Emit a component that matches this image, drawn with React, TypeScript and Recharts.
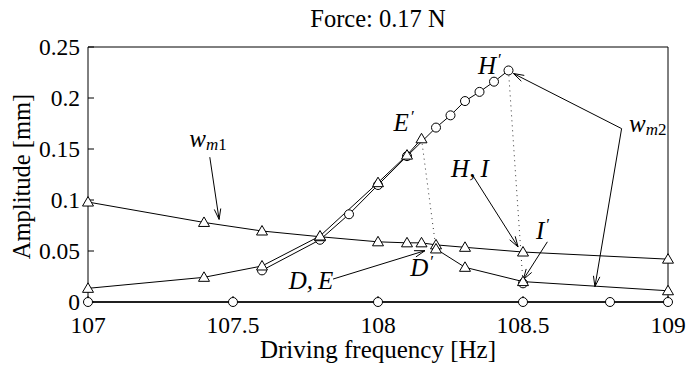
import * as React from "react";
import {
  LineChart,
  Line,
  XAxis,
  YAxis,
  ReferenceLine,
  ReferenceDot,
} from "recharts";

const SERIF = "'Liberation Serif', 'Times New Roman', serif";

// axis ticks
const freqTicks = [107, 107.5, 108, 108.5, 109];
const ampTicks = [0, 0.05, 0.1, 0.15, 0.2, 0.25];

// w_m1, upper branch (triangles)
const upperFreq = [107, 107.4, 107.6, 107.8, 108, 108.1, 108.15, 108.2, 108.3, 108.5, 109];
const upperAmp = [0.098, 0.078, 0.0696, 0.064, 0.059, 0.058, 0.058, 0.056, 0.0536, 0.049, 0.042];

// w_m1, lower branch up to E' (triangles)
const riseFreq = [107, 107.4, 107.6, 107.8, 108, 108.1, 108.15];
const riseAmp = [0.0134, 0.0242, 0.0353, 0.0647, 0.117, 0.144, 0.16];

// after the jump, D' onwards (triangles)
const fallFreq = [108.2, 108.3, 108.5, 109];
const fallAmp = [0.052, 0.034, 0.02, 0.011];

// w_m2, resonant branch up to H' (circles)
const peakFreq = [107.6, 107.8, 107.9, 108, 108.1, 108.2, 108.25, 108.3, 108.35, 108.4, 108.45];
const peakAmp = [0.031, 0.061, 0.086, 0.1147, 0.143, 0.171, 0.183, 0.197, 0.206, 0.216, 0.227];

// I' (circle)
const iFreq = [108.5];
const iAmp = [0.0183];

// w_m2 near zero (circles)
const zeroFreq = [107, 107.5, 108, 108.5, 108.8, 109];
const zeroAmp = [0, 0, 0, 0, 0, 0];

// jumps (dotted): E' -> D', H' -> I'
const jumpEFreq = [108.15, 108.2];
const jumpEAmp = [0.16, 0.052];
const jumpHFreq = [108.45, 108.5];
const jumpHAmp = [0.227, 0.0183];

// annotation labels
const labelNames = ["wm1", "E'", "H'", "H, I", "I'", "D'", "D, E", "wm2"];
const labelFreq = [107.414, 108.09, 108.386, 108.317, 108.569, 108.152, 107.769, 108.93];
const labelAmp = [0.152, 0.168, 0.2235, 0.1225, 0.0618, 0.0255, 0.0127, 0.167];

// annotation arrows
const arrowFrom = [
  [107.42, 0.142],
  [107.845, 0.0225],
  [108.327, 0.124],
  [108.584, 0.059],
  [108.84, 0.17],
  [108.84, 0.17],
];
const arrowTo = [
  [107.452, 0.081],
  [108.162, 0.0503],
  [108.483, 0.054],
  [108.501, 0.022],
  [108.467, 0.224],
  [108.748, 0.015],
];

const zip = (xs: number[], ys: number[]) => xs.map((f, i) => ({ f, a: ys[i] }));

function Triangle(props: any) {
  const { cx, cy, index } = props;
  if (cx == null || cy == null) return <g key={index} />;
  return (
    <path
      key={index}
      d={`M${cx},${cy - 5.5} L${cx + 5.5},${cy + 4} L${cx - 5.5},${cy + 4} Z`}
      fill="#fff"
      stroke="#000"
      strokeWidth={1}
    />
  );
}

const circleDot = { r: 4.5, fill: "#fff", stroke: "#000", strokeWidth: 1 };

function Arrow(props: any) {
  const { x1, y1, x2, y2 } = props;
  const ang = Math.atan2(y2 - y1, x2 - x1);
  const len = 11;
  const spread = 0.3;
  const ax = x2 - len * Math.cos(ang - spread);
  const ay = y2 - len * Math.sin(ang - spread);
  const bx = x2 - len * Math.cos(ang + spread);
  const by = y2 - len * Math.sin(ang + spread);
  return (
    <g>
      <line x1={x1} y1={y1} x2={x2} y2={y2} stroke="#000" strokeWidth={1} />
      <polyline points={`${ax},${ay} ${x2},${y2} ${bx},${by}`} fill="none" stroke="#000" strokeWidth={1} />
    </g>
  );
}

function mathLabel(name: string) {
  return (props: any) => {
    const { cx, cy } = props;
    const common = { fontFamily: SERIF, fill: "#000" };
    if (name === "wm1" || name === "wm2") {
      return (
        <text x={cx} y={cy} textAnchor="middle" {...common} fontSize={25}>
          <tspan fontStyle="italic">w</tspan>
          <tspan fontStyle="italic" fontSize={17} dy={3}>m</tspan>
          <tspan fontSize={17}>{name === "wm1" ? "1" : "2"}</tspan>
        </text>
      );
    }
    const primed = name.endsWith("'");
    const base = primed ? name.slice(0, -1) : name;
    return (
      <text x={cx} y={cy} textAnchor="middle" {...common} fontSize={25} fontStyle="italic">
        {base.replace(", ", ",\u2009")}
        {primed && (
          <tspan fontStyle="normal" fontSize={17} dx={2} dy={-9}>
            {"\u2032"}
          </tspan>
        )}
      </text>
    );
  };
}

export default function App() {
  const tickStyle = { fontSize: 23.5, fontFamily: SERIF, fill: "#000" };
  return (
    <div style={{ position: "absolute", left: 0, top: 0, background: "#fff" }}>
      <LineChart
        width={687}
        height={365}
        margin={{ top: 37, right: 9, bottom: 33, left: 28 }}
      >
        <XAxis
          xAxisId={0}
          dataKey="f"
          type="number"
          domain={[107, 109]}
          ticks={freqTicks}
          height={30}
          tickSize={-6}
          tickMargin={20.5}
          tick={tickStyle}
          stroke="#000"
          tickLine={{ stroke: "#000" }}
          axisLine={{ stroke: "#000" }}
          label={{
            content: ({ viewBox }: any) => (
              <text
                x={viewBox.x + viewBox.width / 2}
                y={viewBox.y + viewBox.height + 26}
                textAnchor="middle"
                fontFamily={SERIF}
                fontSize={25}
                fill="#000"
              >
                Driving frequency [Hz]
              </text>
            ),
          }}
        />
        <XAxis
          xAxisId="top"
          orientation="top"
          dataKey="f"
          type="number"
          domain={[107, 109]}
          ticks={freqTicks}
          height={10}
          tickSize={-6}
          tick={false}
          stroke="#000"
          axisLine={{ stroke: "#000" }}
          label={{
            content: ({ viewBox }: any) => (
              <text
                x={viewBox.x + viewBox.width / 2}
                y={viewBox.y - 10}
                textAnchor="middle"
                fontFamily={SERIF}
                fontSize={24.5}
                fill="#000"
              >
                Force: 0.17 N
              </text>
            ),
          }}
        />
        <YAxis
          yAxisId={0}
          type="number"
          domain={[0, 0.25]}
          ticks={ampTicks}
          width={60}
          tickSize={-6}
          tickMargin={14}
          tick={tickStyle}
          stroke="#000"
          axisLine={{ stroke: "#000" }}
          label={{
            content: ({ viewBox }: any) => {
              const x = viewBox.x + 2;
              const y = viewBox.y + viewBox.height / 2 + 2;
              return (
                <text
                  x={x}
                  y={y}
                  transform={`rotate(-90, ${x}, ${y})`}
                  textAnchor="middle"
                  fontFamily={SERIF}
                  fontSize={24.5}
                  fill="#000"
                >
                  Amplitude [mm]
                </text>
              );
            },
          }}
        />
        <YAxis
          yAxisId="right"
          orientation="right"
          type="number"
          domain={[0, 0.25]}
          ticks={ampTicks}
          width={10}
          tickSize={-6}
          tick={false}
          stroke="#000"
          axisLine={{ stroke: "#000" }}
        />

        <Line data={zip(jumpEFreq, jumpEAmp)} dataKey="a" stroke="#333" strokeDasharray="1 4" dot={false} isAnimationActive={false} />
        <Line data={zip(jumpHFreq, jumpHAmp)} dataKey="a" stroke="#333" strokeDasharray="1 4" dot={false} isAnimationActive={false} />

        <Line data={zip(zeroFreq, zeroAmp)} dataKey="a" stroke="#000" strokeWidth={1.5} dot={circleDot} isAnimationActive={false} />
        <Line data={zip(peakFreq, peakAmp)} dataKey="a" stroke="#000" strokeWidth={1} dot={circleDot} isAnimationActive={false} />
        <Line data={zip(iFreq, iAmp)} dataKey="a" stroke="#000" dot={circleDot} isAnimationActive={false} />
        <Line data={zip(upperFreq, upperAmp)} dataKey="a" stroke="#000" strokeWidth={1} dot={Triangle} isAnimationActive={false} />
        <Line data={zip(riseFreq, riseAmp)} dataKey="a" stroke="#000" strokeWidth={1} dot={Triangle} isAnimationActive={false} />
        <Line data={zip(fallFreq, fallAmp)} dataKey="a" stroke="#000" strokeWidth={1} dot={Triangle} isAnimationActive={false} />

        {arrowFrom.map((p, i) => (
          <ReferenceLine
            key={`arrow-${i}`}
            segment={[
              { x: p[0], y: p[1] },
              { x: arrowTo[i][0], y: arrowTo[i][1] },
            ]}
            ifOverflow="visible"
            shape={Arrow}
          />
        ))}
        {labelNames.map((name, i) => (
          <ReferenceDot
            key={`label-${i}`}
            x={labelFreq[i]}
            y={labelAmp[i]}
            r={0}
            ifOverflow="visible"
            shape={mathLabel(name)}
          />
        ))}
      </LineChart>
    </div>
  );
}
